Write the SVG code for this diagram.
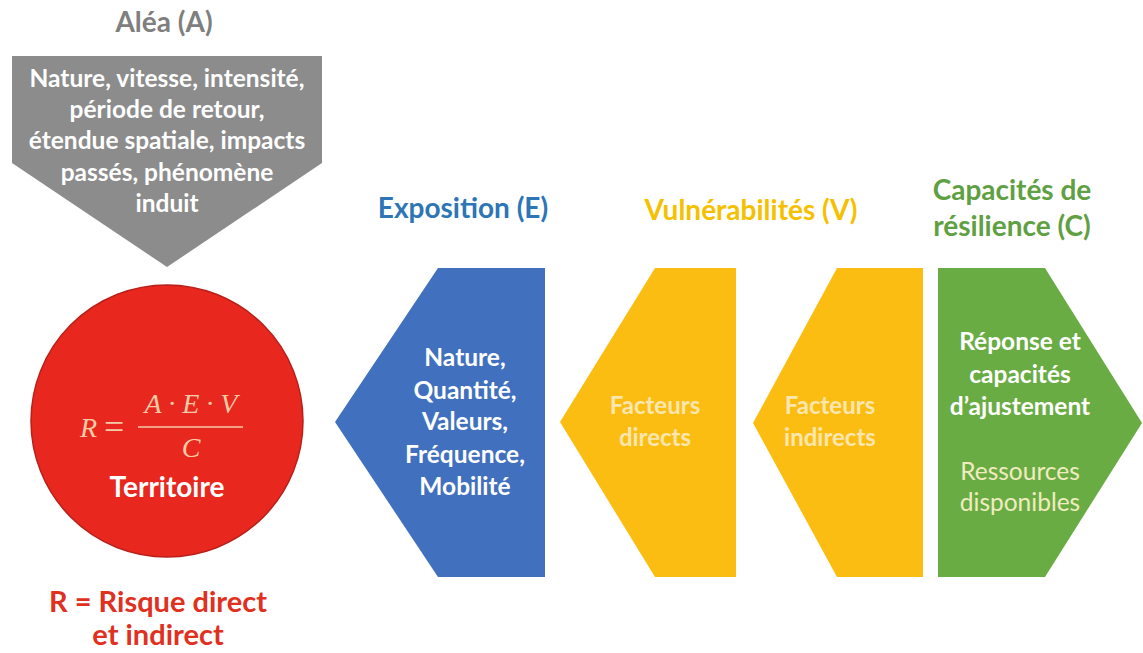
<svg xmlns="http://www.w3.org/2000/svg" width="1143" height="653" viewBox="0 0 1143 653">
<style>
.t{font-family:Lato,"Liberation Sans",sans-serif;font-weight:bold;text-anchor:middle}
.w{fill:#ffffff;font-size:24.5px}
.y{fill:#fbe6b0;font-size:24px}
.r{font-weight:normal;fill:#f0ecc0;font-size:24.5px}
.ttl{font-size:28px}
.f{font-family:"Liberation Serif",serif;font-style:italic;fill:#f5cba6;font-size:28px}
</style>
<rect width="1143" height="653" fill="#ffffff"/>
<g id="alea">
<text class="t ttl" x="164" y="32" fill="#7f7f7f">Aléa (A)</text>
<polygon points="12,56 322,56 322,163 167,267 12,163" fill="#8c8c8c"/>
<text class="t w" x="167" y="87">Nature, vitesse, intensité,</text>
<text class="t w" x="167" y="118">période de retour,</text>
<text class="t w" x="167" y="149">étendue spatiale, impacts</text>
<text class="t w" x="167" y="181">passés, phénomène</text>
<text class="t w" x="167" y="212">induit</text>
</g>
<g id="risque">
<circle cx="167" cy="421" r="136" fill="#e8271f" stroke="#b8201a" stroke-width="1.5"/>
<text class="f" x="80" y="437">R</text>
<text class="f" x="104" y="439" style="font-style:normal;font-size:36px">=</text>
<text class="f" x="191" y="413" text-anchor="middle">A · E · V</text>
<line x1="138" y1="427" x2="243" y2="427" stroke="#f5cba6" stroke-width="1.5"/>
<text class="f" x="191" y="457" text-anchor="middle">C</text>
<text class="t" x="167" y="497" fill="#ffffff" font-size="28">Territoire</text>
<text class="t" x="158" y="612" fill="#e0301e" font-size="29">R = Risque direct</text>
<text class="t" x="158" y="645" fill="#e0301e" font-size="29">et indirect</text>
</g>
<g id="exposition">
<text class="t ttl" x="463" y="218" fill="#2e75b6">Exposition (E)</text>
<polygon points="335,422 438,268 545,268 545,577 438,577" fill="#4070be"/>
<text class="t w" x="465" y="366">Nature,</text>
<text class="t w" x="465" y="399">Quantité,</text>
<text class="t w" x="465" y="430">Valeurs,</text>
<text class="t w" x="465" y="463">Fréquence,</text>
<text class="t w" x="465" y="495">Mobilité</text>
</g>
<g id="vulnerabilites">
<text class="t ttl" x="751" y="220" fill="#f5c000">Vulnérabilités (V)</text>
</g>
<g id="directs">
<polygon points="560,422 655,268 736,268 736,577 655,577" fill="#fbbd12"/>
<text class="t y" x="655" y="414">Facteurs</text>
<text class="t y" x="655" y="446">directs</text>
</g>
<g id="indirects">
<polygon points="753,423 837,268 923,268 923,577 837,577" fill="#fbbd12"/>
<text class="t y" x="830" y="414">Facteurs</text>
<text class="t y" x="830" y="446">indirects</text>
</g>
<g id="capacites">
<text class="t ttl" x="1012" y="200" fill="#5fa043">Capacités de</text>
<text class="t ttl" x="1012" y="236" fill="#5fa043">résilience (C)</text>
<polygon points="938,268 1045,268 1142,423 1045,577 938,577" fill="#6aac44"/>
<text class="t w" x="1020" y="350">Réponse et</text>
<text class="t w" x="1020" y="383">capacités</text>
<text class="t w" x="1020" y="415">d’ajustement</text>
<text class="t r" x="1020" y="480">Ressources</text>
<text class="t r" x="1020" y="511">disponibles</text>
</g>
<g id="connectors"></g>
</svg>
